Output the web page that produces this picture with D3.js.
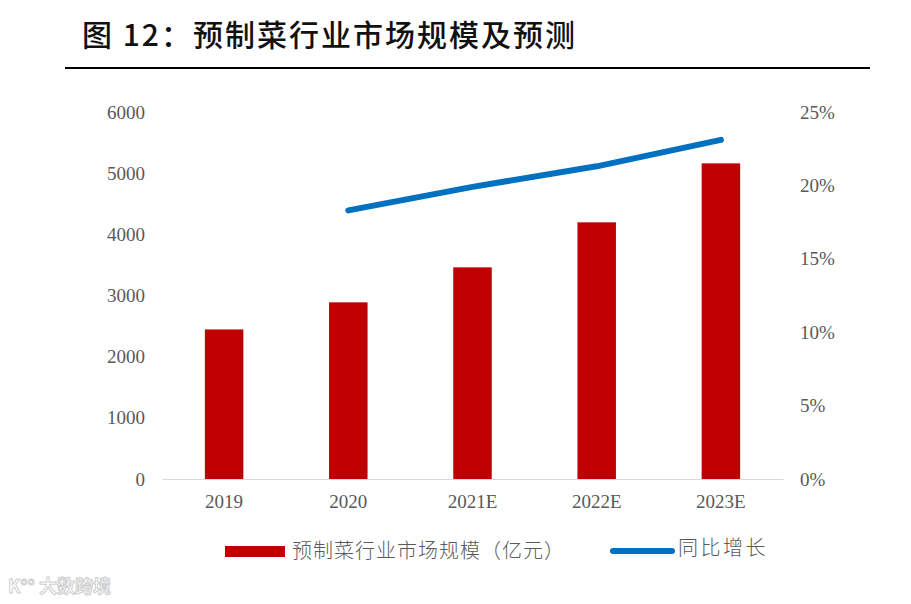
<!DOCTYPE html>
<html>
<head>
<meta charset="utf-8">
<script src="https://cdn.jsdelivr.net/npm/d3@7"></script>
<style>
  body { margin: 0; background: #fff; }
</style>
</head>
<body>
<div class="container"></div>
<script>
const years = ["2019", "2020", "2021E", "2022E", "2023E"];
const marketSize = [2445, 2888, 3460, 4196, 5160]; // 亿元
const growth = [null, 0.183, 0.199, 0.213, 0.231];
const leftTicks = [0, 1000, 2000, 3000, 4000, 5000, 6000];
const rightTicks = [0, 0.05, 0.1, 0.15, 0.2, 0.25];

function main() {
  const width = 911;
  const height = 604;
  const serif = "'Liberation Serif', 'Noto Sans CJK SC', serif";
  const cjk = "'Noto Sans CJK SC', sans-serif";
  const labelColor = "#595959";

  const svg = d3
    .create("svg")
    .attr("width", width)
    .attr("height", height)
    .style("display", "block");

  // title + rule
  svg
    .append("text")
    .attr("x", 82)
    .attr("y", 46)
    .attr("font-family", cjk)
    .attr("font-size", 30)
    .attr("font-weight", 500)
    .attr("letter-spacing", 2)
    .attr("fill", "#111")
    .text("图 12：预制菜行业市场规模及预测");

  svg
    .append("line")
    .attr("x1", 65)
    .attr("x2", 870)
    .attr("y1", 68)
    .attr("y2", 68)
    .attr("stroke", "#000")
    .attr("stroke-width", 2);

  const x = d3
    .scaleBand()
    .domain(years)
    .range([162, 783])
    .paddingInner(0.69)
    .paddingOuter(0.345);

  const y = d3.scaleLinear().domain([0, 6000]).range([479, 112]);
  const y2 = d3.scaleLinear().domain([0, 0.25]).range([479, 112]);

  // left axis
  svg
    .append("g")
    .attr("transform", "translate(145,0)")
    .call(
      d3
        .axisLeft(y)
        .tickValues(leftTicks)
        .tickSize(0)
        .tickPadding(0)
        .tickFormat(d3.format("d"))
    )
    .call((g) => g.select(".domain").remove())
    .selectAll("text")
    .attr("font-family", serif)
    .attr("font-size", 19)
    .attr("fill", labelColor);

  // right axis
  svg
    .append("g")
    .attr("transform", "translate(800,0)")
    .call(
      d3
        .axisRight(y2)
        .tickValues(rightTicks)
        .tickSize(0)
        .tickPadding(0)
        .tickFormat((d) => Math.round(d * 100) + "%")
    )
    .call((g) => g.select(".domain").remove())
    .selectAll("text")
    .attr("font-family", serif)
    .attr("font-size", 19)
    .attr("fill", labelColor);

  // bars
  svg
    .append("g")
    .selectAll("rect")
    .data(years)
    .join("rect")
    .attr("x", (d) => x(d))
    .attr("y", (d, i) => y(marketSize[i]))
    .attr("width", x.bandwidth())
    .attr("height", (d, i) => y(0) - y(marketSize[i]))
    .attr("fill", "#C00000");

  // x axis
  svg
    .append("g")
    .attr("transform", `translate(0,${y(0)})`)
    .call(d3.axisBottom(x).tickSize(0).tickPadding(16))
    .call((g) => g.select(".domain").attr("stroke", "#d9d9d9").attr("stroke-width", 1))
    .selectAll("text")
    .attr("font-family", serif)
    .attr("font-size", 19)
    .attr("fill", labelColor);

  // growth line
  const line = d3
    .line()
    .defined((d) => d !== null)
    .x((d, i) => x(years[i]) + x.bandwidth() / 2)
    .y((d) => y2(d));

  svg
    .append("path")
    .datum(growth)
    .attr("d", line)
    .attr("fill", "none")
    .attr("stroke", "#0070C0")
    .attr("stroke-width", 6)
    .attr("stroke-linecap", "round")
    .attr("stroke-linejoin", "round");

  // legend
  const legend = svg.append("g");
  legend
    .append("rect")
    .attr("x", 225)
    .attr("y", 546)
    .attr("width", 60)
    .attr("height", 11)
    .attr("fill", "#C00000");
  legend
    .append("text")
    .attr("x", 292)
    .attr("y", 551)
    .attr("dy", "0.35em")
    .attr("font-family", cjk)
    .attr("font-size", 20)
    .attr("font-weight", 300)
    .attr("letter-spacing", 1)
    .attr("fill", labelColor)
    .text("预制菜行业市场规模（亿元）");
  legend
    .append("line")
    .attr("x1", 613)
    .attr("x2", 672)
    .attr("y1", 551)
    .attr("y2", 551)
    .attr("stroke", "#0070C0")
    .attr("stroke-width", 6)
    .attr("stroke-linecap", "round");
  legend
    .append("text")
    .attr("x", 678)
    .attr("y", 548)
    .attr("dy", "0.35em")
    .attr("font-family", cjk)
    .attr("font-size", 20)
    .attr("font-weight", 300)
    .attr("letter-spacing", 2.5)
    .attr("fill", labelColor)
    .text("同比增长");

  // watermark
  svg
    .append("text")
    .attr("x", 8)
    .attr("y", 593)
    .attr("font-family", cjk)
    .attr("font-size", 18)
    .attr("font-weight", 700)
    .attr("fill", "#fff")
    .attr("stroke", "#cfcfcf")
    .attr("stroke-width", 1)
    .text("K°° 大数跨境");

  document.querySelector(".container").append(svg.node());
}

main();
</script>
</body>
</html>
